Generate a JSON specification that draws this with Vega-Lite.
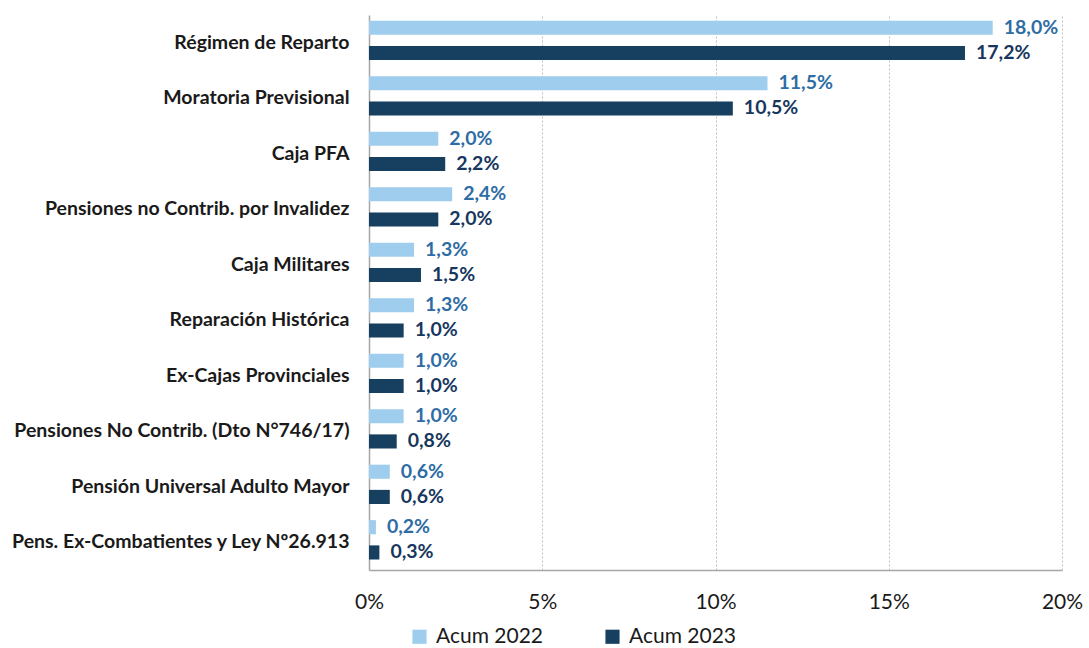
{
  "$schema": "https://vega.github.io/schema/vega-lite/v6.json",
  "autosize": {"type": "none"},
  "padding": {"left": 369, "top": 15, "right": 27, "bottom": 78},
  "width": 693,
  "height": 555,
  "background": "white",
  "config": {
    "locale": {"number": {"decimal": ",", "thousands": ".", "grouping": [3], "currency": ["$", ""]}},
    "font": "Lato",
    "view": {"stroke": null}
  },
  "data": {
    "values": [
      {"cat": "Régimen de Reparto", "serie": "Acum 2022", "v": 0.180},
      {"cat": "Régimen de Reparto", "serie": "Acum 2023", "v": 0.172},
      {"cat": "Moratoria Previsional", "serie": "Acum 2022", "v": 0.115},
      {"cat": "Moratoria Previsional", "serie": "Acum 2023", "v": 0.105},
      {"cat": "Caja PFA", "serie": "Acum 2022", "v": 0.020},
      {"cat": "Caja PFA", "serie": "Acum 2023", "v": 0.022},
      {"cat": "Pensiones no Contrib. por Invalidez", "serie": "Acum 2022", "v": 0.024},
      {"cat": "Pensiones no Contrib. por Invalidez", "serie": "Acum 2023", "v": 0.020},
      {"cat": "Caja Militares", "serie": "Acum 2022", "v": 0.013},
      {"cat": "Caja Militares", "serie": "Acum 2023", "v": 0.015},
      {"cat": "Reparación Histórica", "serie": "Acum 2022", "v": 0.013},
      {"cat": "Reparación Histórica", "serie": "Acum 2023", "v": 0.010},
      {"cat": "Ex-Cajas Provinciales", "serie": "Acum 2022", "v": 0.010},
      {"cat": "Ex-Cajas Provinciales", "serie": "Acum 2023", "v": 0.010},
      {"cat": "Pensiones No Contrib. (Dto N°746/17)", "serie": "Acum 2022", "v": 0.010},
      {"cat": "Pensiones No Contrib. (Dto N°746/17)", "serie": "Acum 2023", "v": 0.008},
      {"cat": "Pensión Universal Adulto Mayor", "serie": "Acum 2022", "v": 0.006},
      {"cat": "Pensión Universal Adulto Mayor", "serie": "Acum 2023", "v": 0.006},
      {"cat": "Pens. Ex-Combatientes y Ley Nº26.913", "serie": "Acum 2022", "v": 0.002},
      {"cat": "Pens. Ex-Combatientes y Ley Nº26.913", "serie": "Acum 2023", "v": 0.003}
    ]
  },
  "encoding": {
    "y": {
      "field": "cat", "type": "nominal", "sort": null, "title": null,
      "scale": {"paddingInner": 0, "paddingOuter": 0},
      "axis": {
        "labelFont": "Lato", "labelFontSize": 19.5, "labelFontWeight": "bold", "labelColor": "#1a1a1a",
        "labelPadding": 20, "ticks": false, "domainColor": "#A6A6A6", "domainWidth": 1.5,
        "labelLimit": 400
      }
    },
    "yOffset": {
      "field": "serie", "type": "nominal",
      "scale": {"paddingInner": 0.44, "paddingOuter": 0.32, "align": 0.35}
    },
    "x": {
      "field": "v", "type": "quantitative", "title": null,
      "scale": {"domain": [0, 0.2], "nice": false},
      "axis": {
        "format": ".0%", "values": [0, 0.05, 0.1, 0.15, 0.2], "labelFlush": false,
        "labelFont": "Lato", "labelFontSize": 21, "labelColor": "#1a1a1a", "labelPadding": 21,
        "ticks": false, "domainColor": "#A6A6A6", "domainWidth": 1.5,
        "grid": true, "gridColor": "#BFBFBF", "gridDash": [2, 2], "gridWidth": 1
      }
    }
  },
  "layer": [
    {
      "mark": {"type": "bar"},
      "encoding": {
        "color": {
          "field": "serie", "type": "nominal",
          "scale": {"domain": ["Acum 2022", "Acum 2023"], "range": ["#9FCDED", "#163F60"]},
          "legend": {
            "title": null, "orient": "none", "direction": "horizontal",
            "legendX": 40, "legendY": 611,
            "symbolType": "square", "symbolSize": 200, "symbolStrokeWidth": 0,
            "labelFont": "Lato", "labelFontSize": 21, "labelColor": "#1a1a1a",
            "labelOffset": 6, "columnPadding": 58
          }
        }
      }
    },
    {
      "mark": {"type": "text", "align": "left", "baseline": "middle", "dx": 11, "font": "Lato", "fontSize": 19.5, "fontWeight": "bold"},
      "encoding": {
        "text": {"field": "v", "type": "quantitative", "format": ".1%"},
        "color": {
          "condition": {"test": "datum.serie === 'Acum 2022'", "value": "#2E6DA4"},
          "value": "#17375E"
        }
      }
    }
  ]
}
